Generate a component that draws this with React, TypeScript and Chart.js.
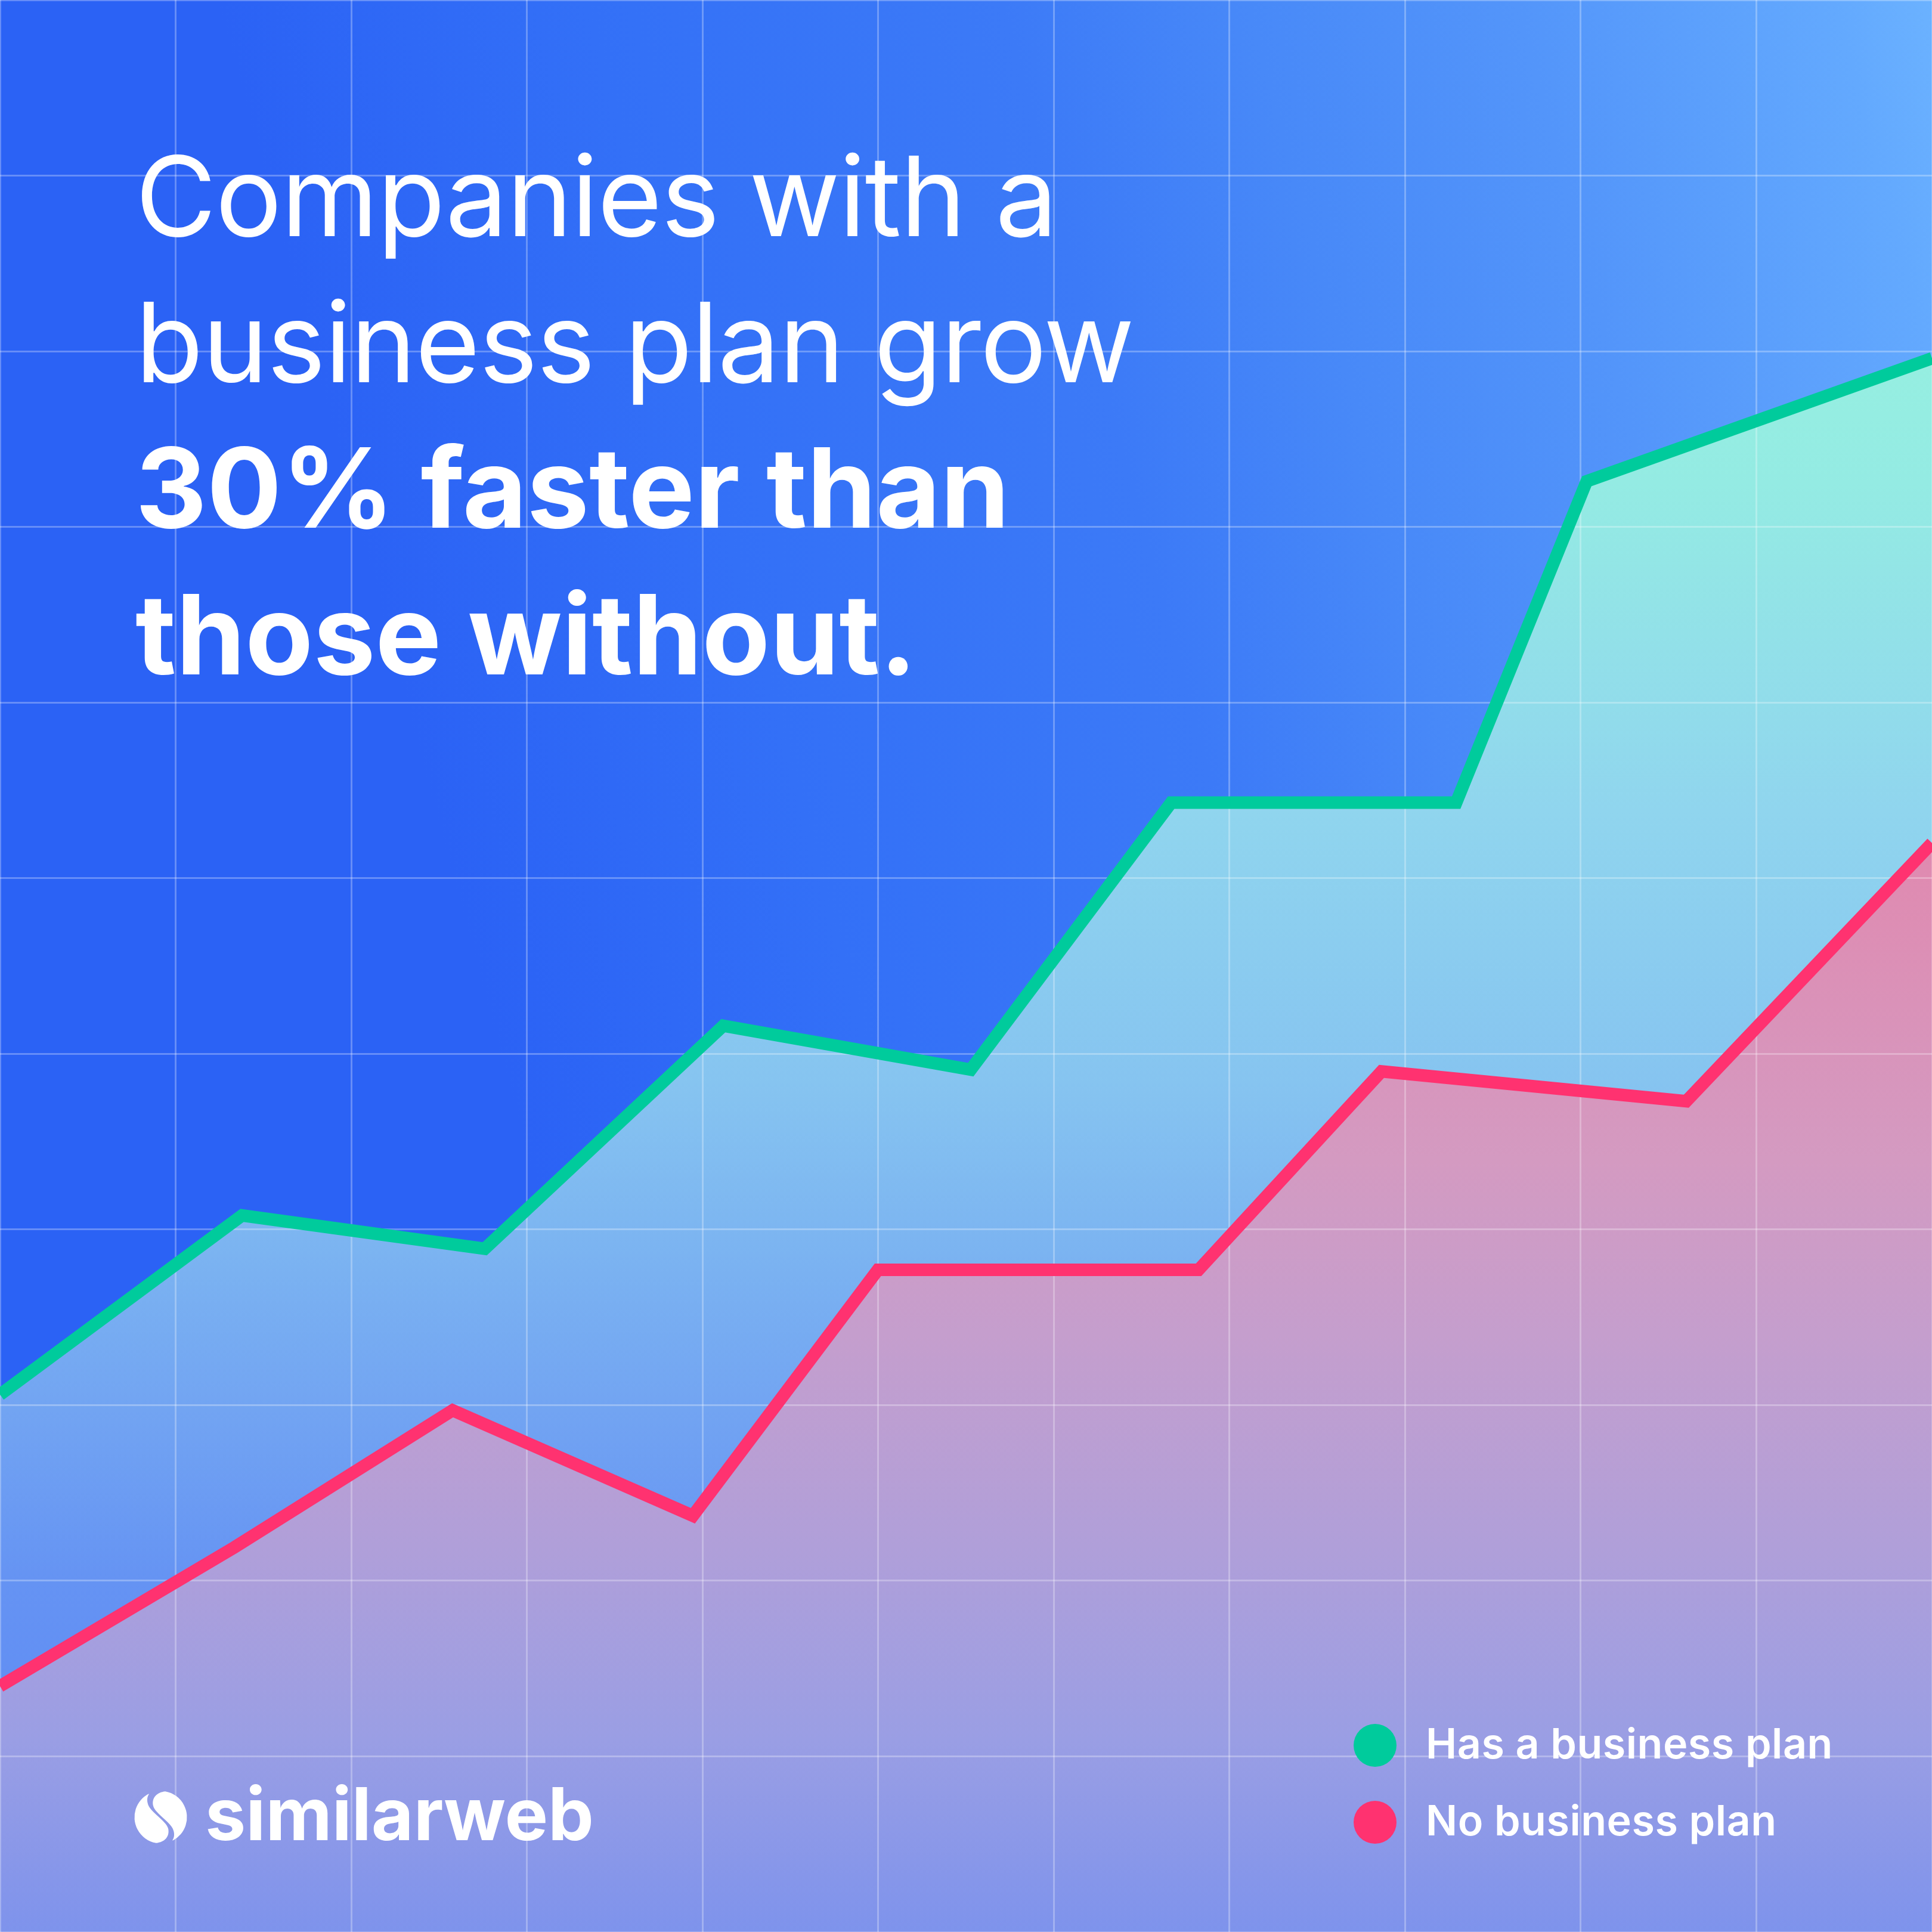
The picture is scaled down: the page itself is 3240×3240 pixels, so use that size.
import React, { useEffect, useRef } from "react";
import { Chart, registerables } from "chart.js";

Chart.register(...registerables);

// ---- data (grid units: 11 columns x 11 rows) ----
const hasPlanX = [0, 1.378, 2.76, 4.118, 5.527, 6.668, 8.291, 9.034, 11];
const hasPlanY = [3.06, 4.08, 3.89, 5.16, 4.91, 6.43, 6.43, 8.26, 8.96];
const noPlanX = [0, 1.334, 2.577, 3.945, 4.998, 6.824, 7.866, 9.601, 11];
const noPlanY = [1.4, 2.19, 2.97, 2.37, 3.77, 3.77, 4.9, 4.73, 6.2];

const seriesLabels = ["Has a business plan", "No business plan"];
const titleLines = ["Companies with a", "business plan grow", "30% faster than", "those without."];
const titleBold = [false, false, true, true];
const brandName = "similarweb";

const GREEN = "#00CB9C";
const PINK = "#FF3270";

const SIZE = 3240;

function greenFill(c: CanvasRenderingContext2D) {
  const g = c.createLinearGradient(0, 0, 0, SIZE);
  g.addColorStop(0.0, "#98F2E0");
  g.addColorStop(0.18, "#96EFE1");
  g.addColorStop(0.25, "#94EBE3");
  g.addColorStop(0.42, "#90D5EE");
  g.addColorStop(0.56, "#86C4F0");
  g.addColorStop(0.65, "#7BB3F1");
  g.addColorStop(0.73, "#72A4F2");
  g.addColorStop(0.82, "#6593F3");
  g.addColorStop(1.0, "#5A85F3");
  return g;
}

function pinkFill(c: CanvasRenderingContext2D) {
  const g = c.createLinearGradient(0, 0, 0, SIZE);
  g.addColorStop(0.0, "#E488AC");
  g.addColorStop(0.44, "#E08AB0");
  g.addColorStop(0.6, "#D49AC1");
  g.addColorStop(0.69, "#C59ECD");
  g.addColorStop(0.8, "#B09FD9");
  g.addColorStop(0.9, "#9A9EE4");
  g.addColorStop(1.0, "#7E93EC");
  return g;
}

function drawLogoMark(c: CanvasRenderingContext2D, cx: number, cy: number, r: number) {
  const piece = (sign: number) => {
    c.save();
    c.translate(cx, cy);
    c.scale(r * sign, r * sign);
    c.beginPath();
    c.moveTo(-0.45, -0.875);
    c.arc(0, 0, 1, (242.8 * Math.PI) / 180, (100 * Math.PI) / 180, true);
    c.bezierCurveTo(0.15, 0.95, 0.34, 0.75, 0.29, 0.45);
    c.bezierCurveTo(0.22, 0.12, -0.45, -0.2, -0.5, -0.55);
    c.bezierCurveTo(-0.53, -0.7, -0.5, -0.8, -0.45, -0.875);
    c.closePath();
    c.fillStyle = "#FFFFFF";
    c.fill();
    c.restore();
  };
  piece(1);
  piece(-1);
}

const overlayPlugin = {
  id: "overlayText",
  afterDraw(chart: any) {
    const c: CanvasRenderingContext2D = chart.ctx;
    c.save();
    c.fillStyle = "#FFFFFF";
    c.textBaseline = "alphabetic";
    c.textAlign = "left";
    // title
    const baselines = [396, 641, 885, 1131];
    titleLines.forEach((line, i) => {
      c.font = `${titleBold[i] ? 700 : 400} 186px Inter`;
      (c as any).letterSpacing = titleBold[i] ? "0px" : "-1.5px";
      c.fillText(line, 227, baselines[i]);
    });
    // legend (in label order)
    (c as any).letterSpacing = "0.5px";
    seriesLabels.forEach((label, i) => {
      const ds = chart.data.datasets.find((d: any) => d.label === label);
      const y = 2927 + i * 129;
      c.beginPath();
      c.arc(2306, y, 36, 0, Math.PI * 2);
      c.fillStyle = ds ? ds.borderColor : "#fff";
      c.fill();
      c.fillStyle = "#FFFFFF";
      c.font = "600 70px Inter";
      c.fillText(label, 2391, y + 22);
    });
    // brand
    drawLogoMark(c, 269.5, 3047.5, 44);
    c.fillStyle = "#FFFFFF";
    c.font = "700 122px Inter";
    (c as any).letterSpacing = "0px";
    c.fillText(brandName, 344, 3086);
    c.restore();
  },
};

export default function App() {
  const ref = useRef<HTMLCanvasElement | null>(null);

  useEffect(() => {
    document.body.style.margin = "0";
    const canvas = ref.current;
    if (!canvas) return;
    const chart = new Chart(canvas, {
      type: "line",
      data: {
        datasets: [
          {
            label: seriesLabels[1],
            data: noPlanX.map((x, i) => ({ x, y: noPlanY[i] })),
            borderColor: PINK,
            borderWidth: 21,
            borderJoinStyle: "miter",
            borderCapStyle: "butt",
            backgroundColor: (ctx: any) => pinkFill(ctx.chart.ctx),
            fill: "start",
            pointRadius: 0,
            tension: 0,
          },
          {
            label: seriesLabels[0],
            data: hasPlanX.map((x, i) => ({ x, y: hasPlanY[i] })),
            borderColor: GREEN,
            borderWidth: 21,
            borderJoinStyle: "miter",
            borderCapStyle: "butt",
            backgroundColor: (ctx: any) => greenFill(ctx.chart.ctx),
            fill: "start",
            pointRadius: 0,
            tension: 0,
          },
        ],
      },
      options: {
        animation: false,
        responsive: false,
        devicePixelRatio: 1,
        layout: { padding: 0 },
        plugins: {
          legend: { display: false },
          title: { display: false },
          tooltip: { enabled: false },
          filler: { drawTime: "beforeDraw" },
        },
        scales: {
          x: {
            type: "linear",
            min: 0,
            max: 11,
            ticks: { display: false, stepSize: 1 },
            grid: { color: "rgba(255,255,255,0.28)", lineWidth: 3, drawTicks: false },
            border: { display: false },
          },
          y: {
            type: "linear",
            min: 0,
            max: 11,
            ticks: { display: false, stepSize: 1 },
            grid: { color: "rgba(255,255,255,0.28)", lineWidth: 3, drawTicks: false },
            border: { display: false },
          },
        },
      } as any,
      plugins: [overlayPlugin],
    });
    return () => chart.destroy();
  }, []);

  return (
    <div
      style={{
        position: "fixed",
        left: 0,
        top: 0,
        width: SIZE,
        height: SIZE,
        background:
          "linear-gradient(75deg, #2B62F5 0%, #2B62F5 30%, #3370F7 45%, #3C7AF7 62%, #4889F8 72%, #5395FA 83%, #63A9FE 96%, #6BB2FF 100%)",
      }}
    >
      <canvas ref={ref} width={SIZE} height={SIZE} style={{ display: "block" }} />
    </div>
  );
}
